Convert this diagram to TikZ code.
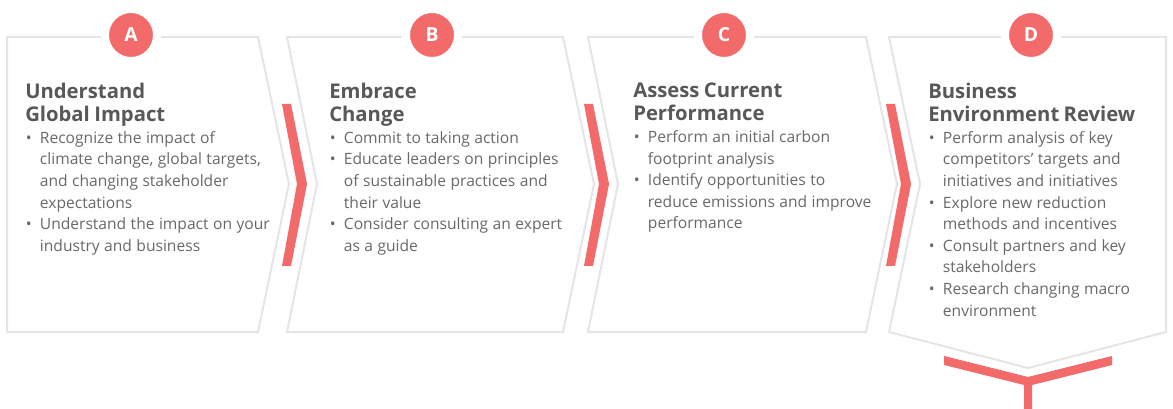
\documentclass[tikz,border=0pt]{standalone}
\usepackage{fontspec}
\setmainfont{Open Sans}
\usepackage{tikz}

\definecolor{accent}{RGB}{242,106,106}
\definecolor{frame}{RGB}{228,228,233}
\definecolor{headgray}{RGB}{88,88,88}
\definecolor{bodygray}{RGB}{104,104,104}

\newcommand{\stagehead}{\fontsize{15.2}{17.25}\selectfont\bfseries\color{headgray}}
\newcommand{\stagebody}{\fontsize{11.7}{16.2}\selectfont\mdseries\color{bodygray}}
\newcommand{\bpoint}[1]{\par\hangindent=11pt\hangafter=1\noindent\makebox[11pt][l]{\hspace{0.5pt}\textbullet}#1\par}

\begin{document}
\begin{tikzpicture}[x=0.75pt,y=-0.75pt]
	\useasboundingbox (0,0) rectangle (1173,409);

	% outlines of the four stages
	\begin{scope}[every path/.style={draw=frame,line width=1.5pt,line join=miter}]
		\path (7,37) -- (258,37) -- (289,184) -- (258,332) -- (7,332) -- cycle;
		\path (287,37) -- (563,37) -- (594,184) -- (563,332) -- (287,332) -- (317,184) -- cycle;
		\path (588,37) -- (866,37) -- (897,184) -- (866,332) -- (588,332) -- (618,184) -- cycle;
		\path (889,37) -- (1166,37) -- (1166,332) -- (1028,368) -- (889,332) -- (920,184) -- cycle;
	\end{scope}

	% red chevrons between the stages
	\begin{scope}[every path/.style={fill=accent}]
		\path (282,104) -- (291,104) -- (307,184) -- (291,266) -- (282,266) -- (297,184) -- cycle;
		\path (584,104) -- (593,104) -- (609,184) -- (593,266) -- (584,266) -- (599,184) -- cycle;
		\path (886,104) -- (895,104) -- (911,184) -- (895,266) -- (886,266) -- (901,184) -- cycle;
		\path (944,356) -- (1028,377) -- (1112,356) -- (1112,365) -- (1032,385) -- (1032,409)
			-- (1024,409) -- (1024,385) -- (944,365) -- cycle;
	\end{scope}

	% lettered badges
	\begin{scope}[every node/.style={circle,fill=accent,draw=white,line width=6pt,
			minimum size=39pt,inner sep=0pt,text=white,font=\fontsize{14.5}{16}\selectfont\bfseries}]
		\node (A) at (131,35) {A};
		\node (B) at (432,35) {B};
		\node (C) at (724,35) {C};
		\node (D) at (1031,35) {D};
	\end{scope}

	% titles and bullet points
	\begin{scope}[every node/.style={anchor=north west,inner sep=0pt,text width=200pt}]
		\node (tA) at (25,83) {\raggedright\stagehead Understand\\Global Impact\par\stagebody
			\bpoint{Recognize the impact of\newline climate change, global targets,\newline and changing stakeholder\newline expectations}
			\bpoint{Understand the impact on your\newline industry and business}};
		\node (tB) at (329,83) {\raggedright\stagehead Embrace\\Change\par\stagebody
			\bpoint{Commit to taking action}
			\bpoint{Educate leaders on principles\newline of sustainable practices and\newline their value}
			\bpoint{Consider consulting an expert\newline as a guide}};
		\node (tC) at (633,83) {\raggedright\stagehead Assess Current\\Performance\par\stagebody
			\bpoint{Perform an initial carbon\newline footprint analysis}
			\bpoint{Identify opportunities to\newline reduce emissions and improve\newline performance}};
		\node (tD) at (928,83) {\raggedright\stagehead Business\\Environment Review\par\stagebody
			\bpoint{Perform analysis of key\newline competitors’ targets and\newline initiatives and initiatives}
			\bpoint{Explore new reduction\newline methods and incentives}
			\bpoint{Consult partners and key\newline stakeholders}
			\bpoint{Research changing macro\newline environment}};
	\end{scope}
\end{tikzpicture}
\end{document}
